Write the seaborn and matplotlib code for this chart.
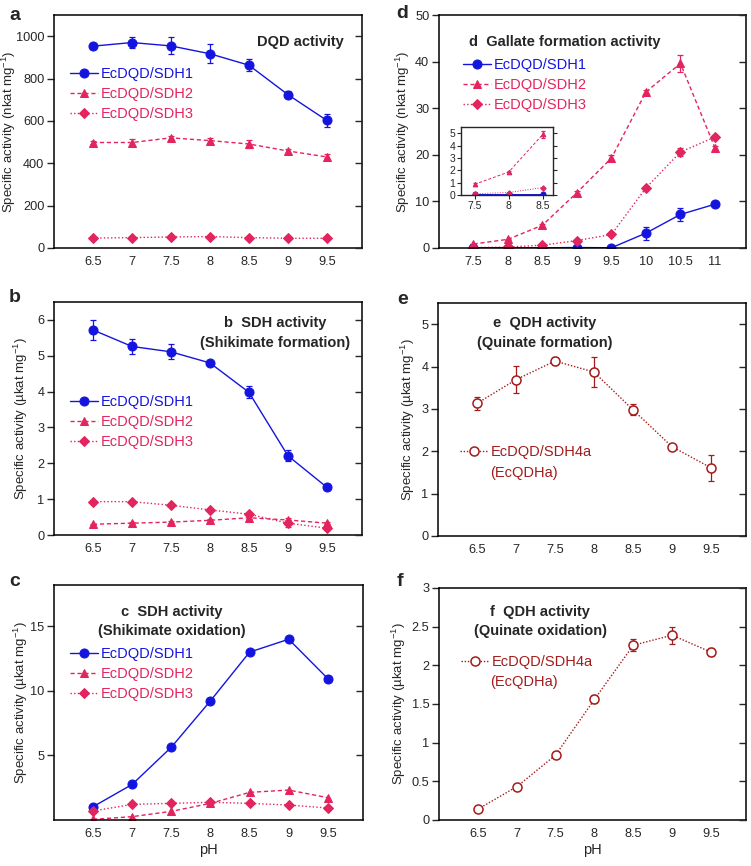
import numpy as np
import pandas as pd
import matplotlib
matplotlib.use("Agg")
import matplotlib.pyplot as plt
import seaborn as sns
from matplotlib.ticker import FuncFormatter

sns.set_style("ticks")
plt.rcParams['font.family'] = ['Liberation Sans', 'DejaVu Sans']
plt.rcParams['mathtext.fontset'] = 'custom'
plt.rcParams['mathtext.rm'] = 'Liberation Sans'

BLUE = "#1414e0"
PINK = "#e3245e"
DRED = "#a31b1b"

# ---------------- data ----------------
ph_a = [6.5, 7, 7.5, 8, 8.5, 9, 9.5]
a_sdh1 = [953, 970, 954, 917, 863, 724, 602]
a_sdh1_err = [15, 25, 40, 45, 28, 18, 30]
a_sdh2 = [498, 498, 520, 507, 491, 458, 430]
a_sdh2_err = [8, 15, 10, 12, 18, 10, 12]
a_sdh3 = [47, 49, 52, 54, 49, 46, 46]
a_sdh3_err = [3, 3, 3, 3, 3, 3, 3]

ph_b = [6.5, 7, 7.5, 8, 8.5, 9, 9.5]
b_sdh1 = [5.72, 5.26, 5.11, 4.80, 3.98, 2.21, 1.33]
b_sdh1_err = [0.29, 0.20, 0.21, 0.06, 0.17, 0.15, 0.08]
b_sdh2 = [0.30, 0.33, 0.36, 0.41, 0.48, 0.42, 0.33]
b_sdh2_err = [0.02, 0.02, 0.03, 0.03, 0.04, 0.05, 0.03]
b_sdh3 = [0.93, 0.93, 0.83, 0.70, 0.58, 0.33, 0.19]
b_sdh3_err = [0.03, 0.03, 0.03, 0.03, 0.05, 0.10, 0.05]

ph_c = [6.5, 7, 7.5, 8, 8.5, 9, 9.5]
c_sdh1 = [1.03, 2.76, 5.64, 9.23, 13.0, 14.0, 10.95]
c_sdh2 = [0.05, 0.26, 0.67, 1.29, 2.14, 2.32, 1.73]
c_sdh3 = [0.70, 1.21, 1.29, 1.37, 1.29, 1.16, 0.93]

ph_d = [7.5, 8, 8.5, 9, 9.5, 10, 10.5, 11]
d_sdh1 = [0.05, 0.05, 0.05, 0.1, 0.05, 3.2, 7.2, 9.4]
d_sdh1_err = [0.02, 0.02, 0.02, 0.05, 0.05, 1.4, 1.3, 0.3]
d_sdh2 = [0.86, 1.86, 4.9, 11.9, 19.3, 33.5, 39.6, 21.5]
d_sdh2_err = [0.1, 0.1, 0.3, 0.4, 0.7, 0.5, 1.8, 0.4]
d_sdh3 = [0.1, 0.2, 0.6, 1.6, 2.9, 12.9, 20.6, 23.8]
d_sdh3_err = [0.02, 0.03, 0.05, 0.1, 0.2, 0.4, 0.8, 0.4]

ph_e = [6.5, 7, 7.5, 8, 8.5, 9, 9.5]
e_qdh = [3.13, 3.69, 4.13, 3.87, 2.98, 2.11, 1.61]
e_qdh_err = [0.16, 0.32, 0.10, 0.35, 0.13, 0.03, 0.30]

ph_f = [6.5, 7, 7.5, 8, 8.5, 9, 9.5]
f_qdh = [0.14, 0.43, 0.84, 1.56, 2.26, 2.39, 2.17]
f_qdh_err = [0.02, 0.02, 0.04, 0.05, 0.08, 0.11, 0.05]

labels3 = ["EcDQD/SDH1", "EcDQD/SDH2", "EcDQD/SDH3"]
label_q = "EcDQD/SDH4a"
label_q2 = "(EcQDHa)"

# ---------------- figure ----------------
W, H = 751, 866
fig = plt.figure(figsize=(W / 100, H / 100), dpi=100)

def box(l, r, t, b):
    return [l / W, 1 - b / H, (r - l) / W, (b - t) / H]

ax_a = fig.add_axes(box(54, 362, 15, 248))
ax_b = fig.add_axes(box(54, 362, 302, 535))
ax_c = fig.add_axes(box(54, 363, 585, 820))
ax_d = fig.add_axes(box(439, 746, 15, 248))
ax_e = fig.add_axes(box(438, 746, 303, 536))
ax_f = fig.add_axes(box(439, 746, 588, 820))

TICK_FS = 9.2
LEG_FS = 10.5
TITLE_FS = 10.5
YLAB_FS = 9.5

STY = {
    "sdh1": dict(color=BLUE, marker="o", dashes=None, ms=6.5),
    "sdh2": dict(color=PINK, marker="^", dashes=(3, 2), ms=6),
    "sdh3": dict(color=PINK, marker="D", dashes=(1, 1.6), ms=5),
    "qdh": dict(color=DRED, marker="o", dashes=(1, 1.3), ms=6.5),
}

def draw(ax, x, y, key, label, err=None, ms_scale=1.0, lw=1.0):
    s = STY[key]
    kw = dict(x=x, y=y, ax=ax, color=s["color"], marker=s["marker"],
              markersize=s["ms"] * ms_scale, markeredgecolor=s["color"],
              linewidth=lw, label=label, errorbar=None, sort=False)
    if key == "qdh":
        kw["markerfacecolor"] = "white"
        kw["markeredgewidth"] = 1.1
    else:
        kw["markerfacecolor"] = s["color"]
    sns.lineplot(**kw)
    ln = ax.get_lines()[-1]
    if s["dashes"] is not None:
        ln.set_dashes(s["dashes"])
    if err is not None:
        ax.errorbar(x, y, yerr=err, fmt="none", ecolor=s["color"],
                    elinewidth=0.9, capsize=2 * ms_scale, capthick=0.9, zorder=1)
    return ln

def style_axes(ax, xlim, ylim, yticks, xticks, xticklabels, ylabel, labx, fmt=None):
    ax.set_xlim(*xlim)
    ax.set_ylim(*ylim)
    ax.set_xticks(xticks)
    ax.set_xticklabels(xticklabels)
    ax.set_yticks(yticks)
    if fmt is not None:
        ax.yaxis.set_major_formatter(FuncFormatter(lambda v, p: "%g" % v))
    ax.tick_params(axis="x", length=0, labelsize=TICK_FS, pad=6)
    ax.tick_params(axis="y", direction="out", length=5, width=1.0,
                   labelsize=TICK_FS, pad=2)
    tw = ax.twinx()
    tw.set_ylim(*ylim)
    tw.set_yticks(yticks)
    tw.tick_params(axis="y", direction="in", length=5, width=1.0,
                   labelright=False)
    tw.grid(False)
    for sp in tw.spines.values():
        sp.set_visible(False)
    for sp in ax.spines.values():
        sp.set_visible(True)
        sp.set_linewidth(1.1)
        sp.set_color("black")
    ax.set_ylabel(ylabel, fontsize=YLAB_FS)
    ax.yaxis.set_label_coords(labx, 0.5)
    ax.set_xlabel("")

def legend(ax, handles, labels, x, y, colors):
    leg = ax.legend(handles, labels, loc="upper left", bbox_to_anchor=(x, y),
                    frameon=False, fontsize=LEG_FS, handlelength=1.9,
                    handletextpad=0.2, labelspacing=0.42, borderpad=0,
                    borderaxespad=0)
    for t, c in zip(leg.get_texts(), colors):
        t.set_color(c)
    return leg

ylab_nkat = r"Specific activity (nkat mg$^{-1}$)"
ylab_ukat = r"Specific activity (µkat mg$^{-1}$)"
ph_ticks = [6.5, 7, 7.5, 8, 8.5, 9, 9.5]
ph_tlab = ["6.5", "7", "7.5", "8", "8.5", "9", "9.5"]

# ---- a ----
h1 = draw(ax_a, ph_a, a_sdh1, "sdh1", labels3[0], a_sdh1_err)
h2 = draw(ax_a, ph_a, a_sdh2, "sdh2", labels3[1], a_sdh2_err)
h3 = draw(ax_a, ph_a, a_sdh3, "sdh3", labels3[2], a_sdh3_err)
style_axes(ax_a, (6.0, 9.95), (0, 1100), [0, 200, 400, 600, 800, 1000],
           ph_ticks, ph_tlab, ylab_nkat, -0.117)
legend(ax_a, [h1, h2, h3], labels3, 0.052, 0.777, [BLUE, PINK, PINK])
ax_a.text(0.94, 0.884, "DQD activity", transform=ax_a.transAxes, ha="right",
          va="center", fontsize=TITLE_FS, fontweight="bold")

# ---- b ----
h1 = draw(ax_b, ph_b, b_sdh1, "sdh1", labels3[0], b_sdh1_err)
h2 = draw(ax_b, ph_b, b_sdh2, "sdh2", labels3[1], b_sdh2_err)
h3 = draw(ax_b, ph_b, b_sdh3, "sdh3", labels3[2], b_sdh3_err)
style_axes(ax_b, (6.0, 9.95), (0, 6.5), [0, 1, 2, 3, 4, 5, 6],
           ph_ticks, ph_tlab, ylab_ukat, -0.078)
legend(ax_b, [h1, h2, h3], labels3, 0.052, 0.60, [BLUE, PINK, PINK])
ax_b.text(0.717, 0.91, "b  SDH activity", transform=ax_b.transAxes, ha="center",
          va="center", fontsize=TITLE_FS, fontweight="bold")
ax_b.text(0.717, 0.824, "(Shikimate formation)", transform=ax_b.transAxes,
          ha="center", va="center", fontsize=TITLE_FS, fontweight="bold")

# ---- c ----
h1 = draw(ax_c, ph_c, c_sdh1, "sdh1", labels3[0])
h2 = draw(ax_c, ph_c, c_sdh2, "sdh2", labels3[1])
h3 = draw(ax_c, ph_c, c_sdh3, "sdh3", labels3[2])
style_axes(ax_c, (6.0, 9.95), (0, 18.2), [5, 10, 15],
           ph_ticks, ph_tlab, ylab_ukat, -0.078)
ax_c.set_xlabel("pH", fontsize=10.5, labelpad=2)
legend(ax_c, [h1, h2, h3], labels3, 0.052, 0.736, [BLUE, PINK, PINK])
ax_c.text(0.38, 0.885, "c  SDH activity", transform=ax_c.transAxes, ha="center",
          va="center", fontsize=TITLE_FS, fontweight="bold")
ax_c.text(0.38, 0.804, "(Shikimate oxidation)", transform=ax_c.transAxes,
          ha="center", va="center", fontsize=TITLE_FS, fontweight="bold")

# ---- d ----
h1 = draw(ax_d, ph_d, d_sdh1, "sdh1", labels3[0], d_sdh1_err)
h2 = draw(ax_d, ph_d, d_sdh2, "sdh2", labels3[1], d_sdh2_err)
h3 = draw(ax_d, ph_d, d_sdh3, "sdh3", labels3[2], d_sdh3_err)
d_ticks = [7.5, 8, 8.5, 9, 9.5, 10, 10.5, 11]
style_axes(ax_d, (7.0, 11.45), (0, 50), [0, 10, 20, 30, 40, 50],
           d_ticks, ["7.5", "8", "8.5", "9", "9.5", "10", "10.5", "11"],
           ylab_nkat, -0.088)
legend(ax_d, [h1, h2, h3], labels3, 0.078, 0.815, [BLUE, PINK, PINK])
ax_d.text(0.408, 0.884, "d  Gallate formation activity", transform=ax_d.transAxes,
          ha="center", va="center", fontsize=TITLE_FS, fontweight="bold")

# inset
ax_in = fig.add_axes(box(461, 553, 127, 195))
n_in = 3
draw(ax_in, ph_d[:n_in], d_sdh1[:n_in], "sdh1", None, ms_scale=0.55, lw=0.7)
draw(ax_in, ph_d[:n_in], d_sdh2[:n_in], "sdh2", None, d_sdh2_err[:n_in], ms_scale=0.55, lw=0.7)
draw(ax_in, ph_d[:n_in], d_sdh3[:n_in], "sdh3", None, ms_scale=0.55, lw=0.7)
ax_in.set_xlim(7.3, 8.65)
ax_in.set_ylim(0, 5.5)
ax_in.set_xticks([7.5, 8, 8.5])
ax_in.set_xticklabels(["7.5", "8", "8.5"])
ax_in.set_yticks([0, 1, 2, 3, 4, 5])
ax_in.tick_params(axis="x", length=3, direction="out", labelsize=7.5, pad=1)
ax_in.tick_params(axis="y", length=3, direction="out", labelsize=7.5, pad=1,
                  right=True)
for sp in ax_in.spines.values():
    sp.set_visible(True)
    sp.set_linewidth(1.0)
ax_in.set_xlabel("")
ax_in.set_ylabel("")
if ax_in.get_legend() is not None:
    ax_in.get_legend().remove()

# ---- e ----
hq = draw(ax_e, ph_e, e_qdh, "qdh", label_q, e_qdh_err)
style_axes(ax_e, (6.0, 9.95), (0, 5.5), [0, 1, 2, 3, 4, 5],
           ph_ticks, ph_tlab, ylab_ukat, -0.068)
legend(ax_e, [hq], [label_q], 0.072, 0.39, [DRED])
ax_e.text(0.169, 0.27, label_q2, transform=ax_e.transAxes, ha="left",
          va="center", fontsize=LEG_FS, color=DRED)
ax_e.text(0.345, 0.914, "e  QDH activity", transform=ax_e.transAxes, ha="center",
          va="center", fontsize=TITLE_FS, fontweight="bold")
ax_e.text(0.345, 0.828, "(Quinate formation)", transform=ax_e.transAxes,
          ha="center", va="center", fontsize=TITLE_FS, fontweight="bold")

# ---- f ----
hq = draw(ax_f, ph_f, f_qdh, "qdh", label_q, f_qdh_err)
style_axes(ax_f, (6.0, 9.95), (0, 3), [0, 0.5, 1, 1.5, 2, 2.5, 3],
           ph_ticks, ph_tlab, ylab_ukat, -0.10, fmt=True)
ax_f.set_xlabel("pH", fontsize=10.5, labelpad=2)
legend(ax_f, [hq], [label_q], 0.072, 0.71, [DRED])
ax_f.text(0.166, 0.595, label_q2, transform=ax_f.transAxes, ha="left",
          va="center", fontsize=LEG_FS, color=DRED)
ax_f.text(0.329, 0.897, "f  QDH activity", transform=ax_f.transAxes, ha="center",
          va="center", fontsize=TITLE_FS, fontweight="bold")
ax_f.text(0.329, 0.815, "(Quinate oxidation)", transform=ax_f.transAxes,
          ha="center", va="center", fontsize=TITLE_FS, fontweight="bold")

# panel letters
for letter, (px, py) in {"a": (15, 15), "b": (15, 298), "c": (15, 582),
                         "d": (402, 14), "e": (403, 299), "f": (400, 581)}.items():
    fig.text(px / W, 1 - py / H, letter, ha="center", va="center",
             fontsize=14, fontweight="bold")

fig.savefig("out.png", dpi=100)
